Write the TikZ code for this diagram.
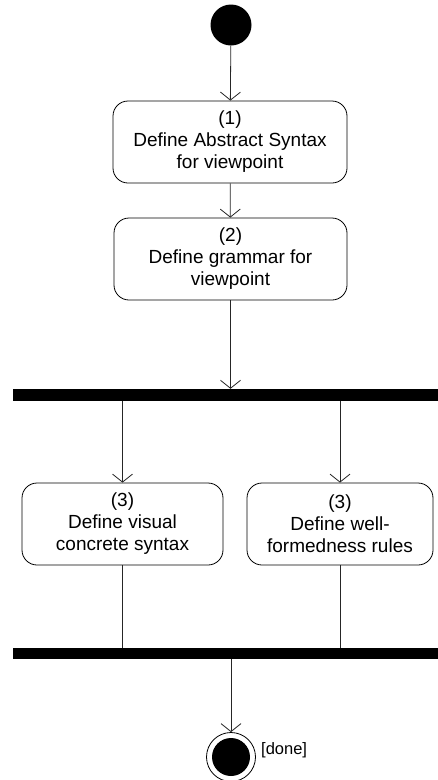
\documentclass[tikz,border=0pt]{standalone}
\usepackage{fontspec}
\setmainfont{Liberation Sans}
\usetikzlibrary{arrows.meta}
\begin{document}
\begin{tikzpicture}[x=1pt,y=-1pt,
  action/.style={draw, rounded corners=15pt, align=center, line width=0.8pt,
    font=\fontsize{19}{22}\selectfont, inner sep=0pt, minimum height=82pt},
  flow/.style={draw=black!85, line width=0.8pt, -{Straight Barb[length=8pt,width=20pt]}},
  plain/.style={draw=black!85, line width=0.8pt},
  syncbar/.style={fill=black, inner sep=0pt, minimum width=425pt}]
\useasboundingbox (0,0) rectangle (438,780);

% initial state
\node[circle, fill=black, minimum size=41pt, inner sep=0pt] (start) at (231,25) {};

% actions
\node[action, minimum width=234pt] (a1) at (230,142) {(1)\\Define Abstract Syntax\\for viewpoint};
\node[action, minimum width=233pt] (a2) at (230.5,259) {(2)\\Define grammar for\\viewpoint};
\node[action, minimum width=201pt] (a3) at (122.5,524) {(3)\\Define visual\\concrete syntax};
\node[action, minimum width=186pt] (a4) at (340,524) {(3)\\Define well-\\formedness rules};

% fork and join bars
\node[syncbar, minimum height=12pt] (fork) at (225.5,395) {};
\node[syncbar, minimum height=11pt] (join) at (225.5,653.5) {};

% final state
\node[circle, draw, line width=0.8pt, minimum size=49pt, inner sep=0pt] (final) at (231,757) {};
\node[circle, fill=black, minimum size=38pt, inner sep=0pt] (finalcore) at (final.center) {};
\node[anchor=west, font=\fontsize{16.5}{19}\selectfont, inner sep=0pt] (done) at (261,750) {[done]};

% control flow
\draw[flow] (start) -- (a1);
\draw[flow] (a1) -- (a2);
\draw[flow] (a2) -- (a2 |- fork.north);
\draw[flow] (fork.south -| a3) -- (a3);
\draw[flow] (fork.south -| a4) -- (a4);
\draw[plain] (a3) -- (a3 |- join.north);
\draw[plain] (a4) -- (a4 |- join.north);
\draw[flow] (join.south -| final) -- (final);
\end{tikzpicture}
\end{document}
